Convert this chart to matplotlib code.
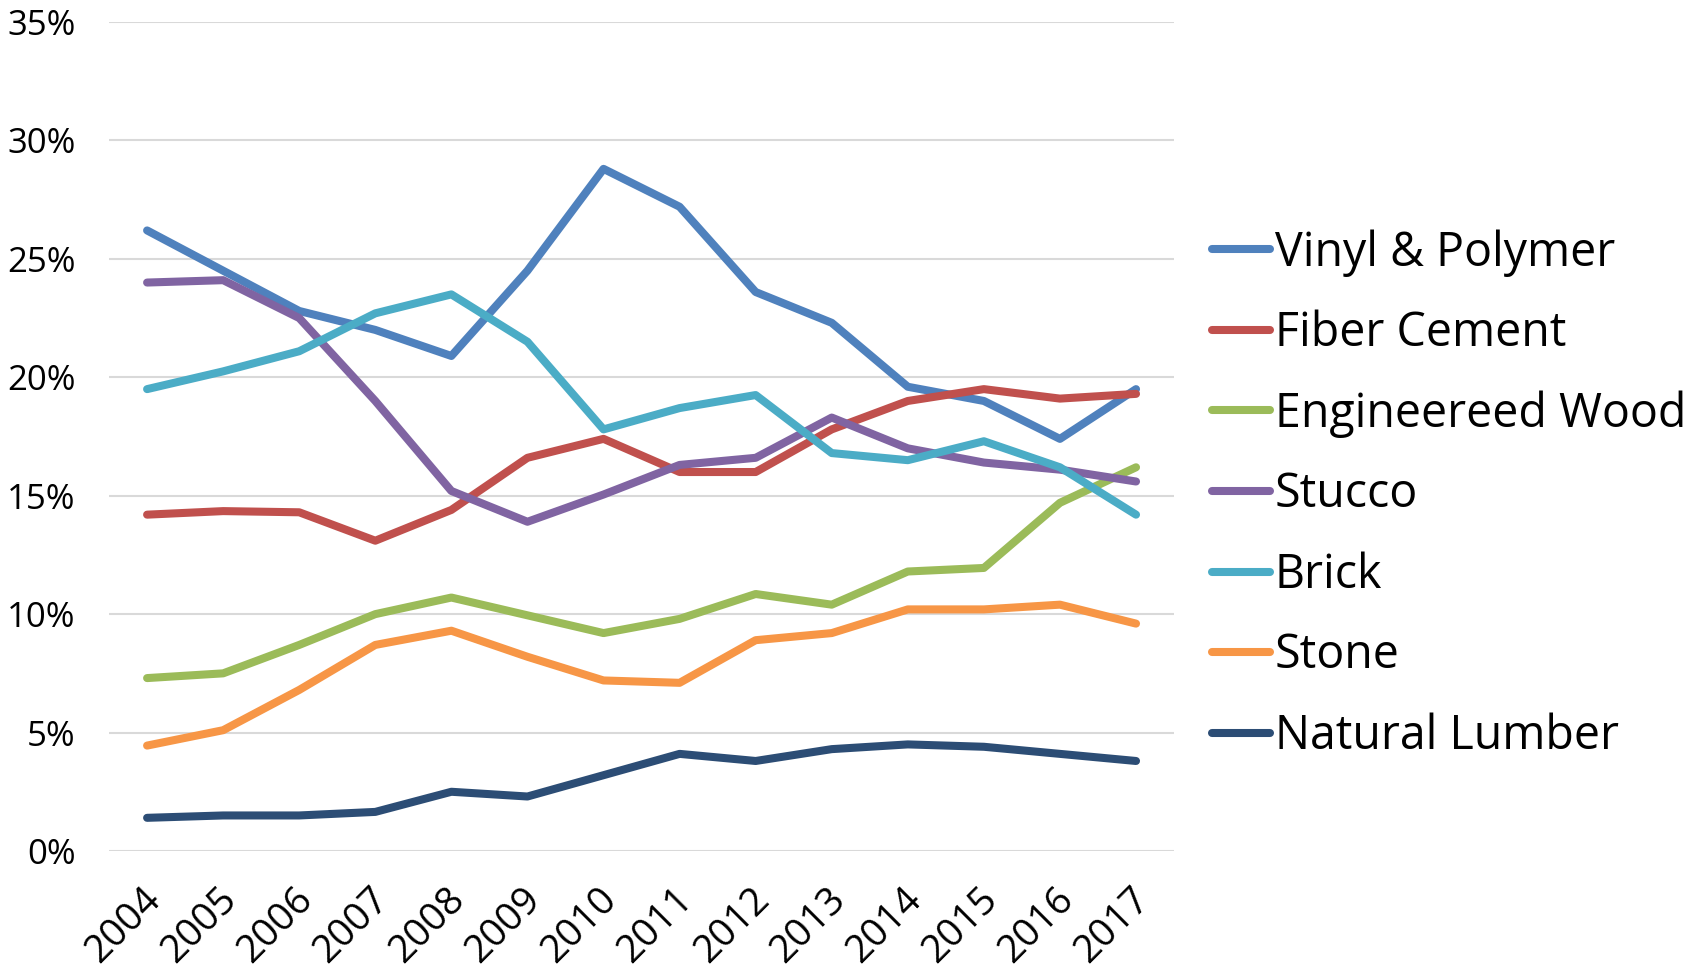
import matplotlib
matplotlib.use("Agg")
import matplotlib.pyplot as plt
from matplotlib.ticker import FuncFormatter
from matplotlib.transforms import ScaledTranslation

years = [str(y) for y in range(2004, 2018)]
vinyl = [26.2, 24.5, 22.8, 22.0, 20.9, 24.5, 28.8, 27.2, 23.6, 22.3, 19.6, 19.0, 17.4, 19.5]
fiber_cement = [14.2, 14.35, 14.3, 13.1, 14.4, 16.6, 17.4, 16.0, 16.0, 17.8, 19.0, 19.5, 19.1, 19.3]
engineered_wood = [7.3, 7.5, 8.7, 10.0, 10.7, 9.95, 9.2, 9.8, 10.85, 10.4, 11.8, 11.95, 14.7, 16.2]
stucco = [24.0, 24.1, 22.5, 19.0, 15.2, 13.9, 15.05, 16.3, 16.6, 18.3, 17.0, 16.4, 16.1, 15.6]
brick = [19.5, 20.25, 21.1, 22.7, 23.5, 21.5, 17.8, 18.7, 19.25, 16.8, 16.5, 17.3, 16.2, 14.2]
stone = [4.45, 5.1, 6.8, 8.7, 9.3, 8.2, 7.2, 7.1, 8.9, 9.2, 10.2, 10.2, 10.4, 9.6]
natural_lumber = [1.4, 1.5, 1.5, 1.65, 2.5, 2.3, 3.2, 4.1, 3.8, 4.3, 4.5, 4.4, 4.1, 3.8]

series_names = ["Vinyl & Polymer", "Fiber Cement", "Engineereed Wood", "Stucco",
                "Brick", "Stone", "Natural Lumber"]
series_values = [vinyl, fiber_cement, engineered_wood, stucco, brick, stone, natural_lumber]
colors = ["#4F81BD", "#C0504D", "#9BBB59", "#8064A2", "#4BACC6", "#F79646", "#2C4D75"]

plt.rcParams['font.family'] = ['Open Sans', 'DejaVu Sans']

fig = plt.figure(figsize=(17.04, 9.74), dpi=100)
ax = fig.add_axes([0.064, 0.1263, 0.625, 0.8511])

x = list(range(len(years)))
for name, vals, c in zip(series_names, series_values, colors):
    ax.plot(x, vals, color=c, lw=5.8, label=name, solid_capstyle='round',
            solid_joinstyle='round')

ax.set_xlim(-0.5, len(years) - 0.5)
ax.set_ylim(0, 35)
ax.set_yticks([0, 5, 10, 15, 20, 25, 30, 35])
ax.yaxis.set_major_formatter(FuncFormatter(lambda v, p: f"{int(v)}%"))
ax.grid(axis='y', color='#D9D9D9', lw=1.5)
ax.set_axisbelow(True)
for s in ax.spines.values():
    s.set_visible(False)
ax.tick_params(axis='both', length=0)
ax.tick_params(axis='y', pad=24, labelsize=25)
ax.set_xticks(x)
ax.set_xticklabels(years, rotation=45, ha='right', rotation_mode='anchor', fontsize=28)
ax.tick_params(axis='x', pad=21)
for lbl in ax.get_xticklabels():
    lbl.set_transform(lbl.get_transform() + ScaledTranslation(-4/72, 0, fig.dpi_scale_trans))

leg = ax.legend(loc='center left', bbox_to_anchor=(1.018, 0.43), frameon=False,
                fontsize=33.5, handlelength=1.25, handletextpad=0.1,
                labelspacing=0.71, borderaxespad=0)
for h in leg.get_lines():
    h.set_linewidth(5.8)

fig.savefig("out.png", dpi=100)
